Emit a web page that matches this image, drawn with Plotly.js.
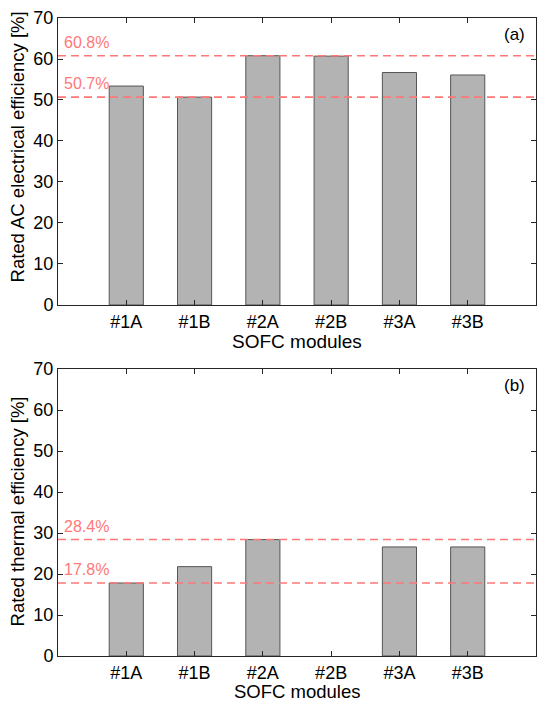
<!DOCTYPE html>
<html>
<head>
<meta charset="utf-8">
<script src="https://cdn.plot.ly/plotly-3.0.1.min.js"></script>
<style>html,body{margin:0;padding:0;background:#fff;}#chart{width:539px;height:703px;}</style>
</head>
<body>
<div id="chart"></div>
<script>
var modules = ["#1A", "#1B", "#2A", "#2B", "#3A", "#3B"];
var positions = [1, 2, 3, 4, 5, 6];
var electricalEff = [53.4, 50.7, 60.8, 60.7, 56.7, 56.1];
var thermalEff = [17.8, 21.8, 28.4, null, 26.6, 26.6];
var electricalRefs = [60.8, 50.7];
var electricalRefLabels = ["60.8%", "50.7%"];
var thermalRefs = [28.4, 17.8];
var thermalRefLabels = ["28.4%", "17.8%"];
var yTicks = [0, 10, 20, 30, 40, 50, 60, 70];
var xTitle = "SOFC modules";
var yTitleTop = "Rated AC electrical efficiency [%]";
var yTitleBottom = "Rated thermal efficiency [%]";

var FONT = "Liberation Sans, Arial, Helvetica, sans-serif";
var AXC = "#262626";
var RED = "rgb(255,120,120)";

var barStyle = {color: "#b3b3b3", line: {color: "#555555", width: 1}};

var traces = [
  {type: "bar", x: positions, y: electricalEff, width: 0.5, marker: barStyle, xaxis: "x", yaxis: "y", hoverinfo: "x+y"},
  {type: "bar", x: positions, y: thermalEff, width: 0.5, marker: barStyle, xaxis: "x2", yaxis: "y2", hoverinfo: "x+y"}
];

function xaxisDef(anchor) {
  return {
    anchor: anchor, range: [0, 7], tickmode: "array", tickvals: positions, ticktext: modules,
    ticks: "inside", ticklen: 5, tickcolor: AXC, showline: true, linecolor: AXC, linewidth: 1,
    mirror: "ticks", showgrid: false, zeroline: false,
    tickfont: {family: FONT, size: 18, color: "#000"}
  };
}
function yaxisDef(anchor, domain) {
  return {
    anchor: anchor, domain: domain, range: [0, 70], tickmode: "array", tickvals: yTicks,
    ticks: "inside", ticklen: 5, tickcolor: AXC, showline: true, linecolor: AXC, linewidth: 1,
    mirror: "ticks", showgrid: false, zeroline: false,
    tickfont: {family: FONT, size: 18, color: "#000"}
  };
}

var shapes = [];
var annotations = [];
function addRefs(vals, labels, xr, yr) {
  vals.forEach(function (v, i) {
    shapes.push({type: "line", xref: xr + " domain", yref: yr, x0: 0, x1: 1, y0: v, y1: v,
      line: {color: RED, width: 1.6, dash: "8px,5px"}});
    annotations.push({xref: xr + " domain", yref: yr, x: 0.008, y: v, xanchor: "left", yanchor: "bottom",
      yshift: 3, text: labels[i], showarrow: false, font: {family: FONT, size: 16, color: RED}});
  });
}
addRefs(electricalRefs, electricalRefLabels, "x", "y");
addRefs(thermalRefs, thermalRefLabels, "x2", "y2");

annotations.push({xref: "x domain", yref: "y domain", x: 0.981, y: 0.941, xanchor: "right", yanchor: "middle",
  text: "(a)", showarrow: false, font: {family: FONT, size: 17, color: "#000"}});
annotations.push({xref: "x2 domain", yref: "y2 domain", x: 0.981, y: 0.941, xanchor: "right", yanchor: "middle",
  text: "(b)", showarrow: false, font: {family: FONT, size: 17, color: "#000"}});

// axis titles
annotations.push({xref: "paper", yref: "paper", x: 0.5, y: 0.4922, xanchor: "center", yanchor: "middle",
  text: xTitle, showarrow: false, font: {family: FONT, size: 19, color: "#000"}});
annotations.push({xref: "paper", yref: "paper", x: 0.5, y: -0.0564, xanchor: "center", yanchor: "middle",
  text: xTitle, showarrow: false, font: {family: FONT, size: 18.5, color: "#000"}});
annotations.push({xref: "paper", yref: "paper", x: -0.0837, y: 0.7986, xanchor: "center", yanchor: "middle",
  textangle: -90, text: yTitleTop, showarrow: false, font: {family: FONT, size: 18.5, color: "#000"}});
annotations.push({xref: "paper", yref: "paper", x: -0.0837, y: 0.2265, xanchor: "center", yanchor: "middle",
  textangle: -90, text: yTitleBottom, showarrow: false, font: {family: FONT, size: 18.5, color: "#000"}});

var layout = {
  width: 539, height: 703,
  margin: {l: 58, r: 3, t: 18, b: 47},
  paper_bgcolor: "#fff", plot_bgcolor: "#fff",
  showlegend: false,
  xaxis: xaxisDef("y"),
  yaxis: yaxisDef("x", [0.5502, 1]),
  xaxis2: xaxisDef("y2"),
  yaxis2: yaxisDef("x2", [0, 0.4498]),
  shapes: shapes,
  annotations: annotations,
  bargap: 0
};

Plotly.newPlot("chart", traces, layout, {displayModeBar: false, staticPlot: true});
</script>
</body>
</html>
